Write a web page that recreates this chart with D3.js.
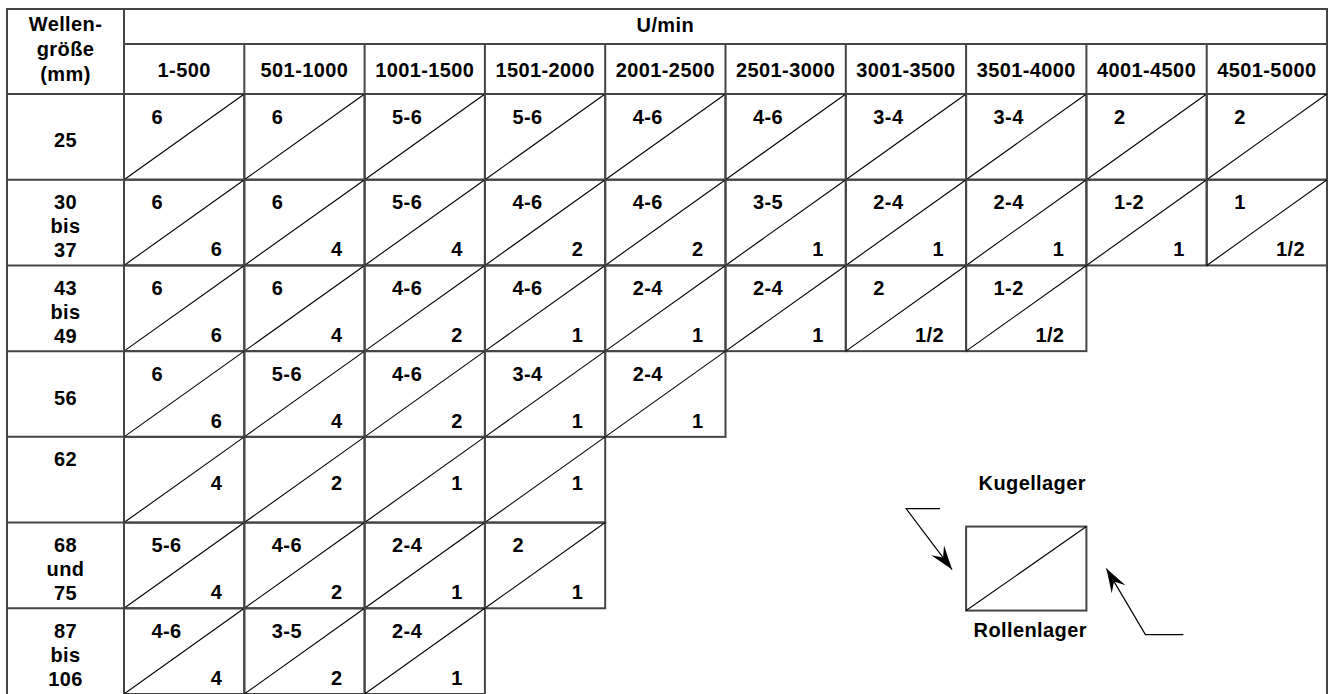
<!DOCTYPE html>
<html>
<head>
<meta charset="utf-8">
<script src="https://cdn.jsdelivr.net/npm/d3@7"></script>
<style>
  html, body { margin: 0; padding: 0; background: #fff; }
  svg text { font-family: "Liberation Sans", Arial, sans-serif; font-weight: bold; font-size: 20px; fill: #000; letter-spacing: 0.4px; }
</style>
</head>
<body>
<svg id="chart" width="1328" height="694"></svg>
<script>
// speed ranges (U/min)
const columns = ["1-500", "501-1000", "1001-1500", "1501-2000", "2001-2500",
  "2501-3000", "3001-3500", "3501-4000", "4001-4500", "4501-5000"];

// shaft size (mm), lines split by "|"
const rowLabels = ["25", "30|bis|37", "43|bis|49", "56", "62", "68|und|75", "87|bis|106"];

// upper-left triangle: Kugellager
const kugellager = [
  ["6", "6", "5-6", "5-6", "4-6", "4-6", "3-4", "3-4", "2", "2"],
  ["6", "6", "5-6", "4-6", "4-6", "3-5", "2-4", "2-4", "1-2", "1"],
  ["6", "6", "4-6", "4-6", "2-4", "2-4", "2", "1-2"],
  ["6", "5-6", "4-6", "3-4", "2-4"],
  [null, null, null, null],
  ["5-6", "4-6", "2-4", "2"],
  ["4-6", "3-5", "2-4"]
];

// lower-right triangle: Rollenlager
const rollenlager = [
  [null, null, null, null, null, null, null, null, null, null],
  ["6", "4", "4", "2", "2", "1", "1", "1", "1", "1/2"],
  ["6", "4", "2", "1", "1", "1", "1/2", "1/2"],
  ["6", "4", "2", "1", "1"],
  ["4", "2", "1", "1"],
  ["4", "2", "1", "1"],
  ["4", "2", "1"]
];

const headerTitle = "Wellen-|größe|(mm)";
const unitTitle = "U/min";
const legendTop = "Kugellager";
const legendBottom = "Rollenlager";

// layout
const tLeft = 7, labelRight = 124, tRight = 1327;
const tTop = 9, headMid = 44, headBottom = 94, tBottom = 694;
const gridColor = "#454545";

const svg = d3.select("#chart");

const x = d3.scaleBand().domain(d3.range(columns.length)).range([labelRight, tRight]);
const y = d3.scaleBand().domain(d3.range(rowLabels.length)).range([headBottom, tBottom]);

// build cells
const cells = [];
rowLabels.forEach((r, i) => {
  const n = Math.max(kugellager[i].length, rollenlager[i].length);
  const noTop = kugellager[i].every(v => v === null);
  for (let j = 0; j < n; j++) {
    cells.push({ row: i, col: j, up: kugellager[i][j], low: rollenlager[i][j], noTop: noTop });
  }
});

const grid = svg.append("g");

// outer frame and header frames
grid.append("rect")
  .attr("x", tLeft).attr("y", tTop)
  .attr("width", tRight - tLeft).attr("height", tBottom + 2 - tTop)
  .attr("fill", "none").attr("stroke", gridColor).attr("stroke-width", 2);

grid.append("line")
  .attr("x1", labelRight).attr("x2", labelRight).attr("y1", tTop).attr("y2", tBottom + 2)
  .attr("stroke", gridColor).attr("stroke-width", 2);
grid.append("line")
  .attr("x1", labelRight).attr("x2", tRight).attr("y1", headMid).attr("y2", headMid)
  .attr("stroke", gridColor).attr("stroke-width", 2);
grid.append("line")
  .attr("x1", tLeft).attr("x2", tRight).attr("y1", headBottom).attr("y2", headBottom)
  .attr("stroke", gridColor).attr("stroke-width", 2);

// column header separators
grid.selectAll(".colsep")
  .data(columns.slice(1))
  .enter()
  .append("line")
  .attr("x1", (d, i) => x(i + 1)).attr("x2", (d, i) => x(i + 1))
  .attr("y1", headMid).attr("y2", headBottom)
  .attr("stroke", gridColor).attr("stroke-width", 2);

// row separators in label column
grid.selectAll(".rowsep")
  .data(rowLabels.slice(1))
  .enter()
  .append("line")
  .attr("x1", tLeft).attr("x2", labelRight)
  .attr("y1", (d, i) => y(i + 1)).attr("y2", (d, i) => y(i + 1))
  .attr("stroke", gridColor).attr("stroke-width", 2);

// value cells
const cellG = svg.append("g")
  .selectAll("g")
  .data(cells)
  .enter()
  .append("g");

cellG.append("rect")
  .attr("x", d => x(d.col)).attr("y", d => y(d.row))
  .attr("width", x.bandwidth()).attr("height", y.bandwidth())
  .attr("fill", "none").attr("stroke", gridColor).attr("stroke-width", 2);

cellG.append("line")
  .attr("x1", d => x(d.col)).attr("y1", d => y(d.row) + y.bandwidth())
  .attr("x2", d => x(d.col) + x.bandwidth()).attr("y2", d => y(d.row))
  .attr("stroke", "#000").attr("stroke-width", 1.1);

cellG.filter(d => d.up !== null)
  .append("text")
  .attr("x", d => x(d.col) + 27.5)
  .attr("y", d => y(d.row) + 29.5)
  .text(d => d.up);

cellG.filter(d => d.low !== null)
  .append("text")
  .attr("text-anchor", "end")
  .attr("x", d => x(d.col) + x.bandwidth() - 22)
  .attr("y", d => d.noTop ? y(d.row) + y.bandwidth() / 2 + 10.5 : y(d.row) + y.bandwidth() - 9)
  .text(d => d.low);

// header texts
svg.append("text")
  .attr("text-anchor", "middle")
  .attr("x", x(4) + x.bandwidth() / 2).attr("y", 31.5)
  .text(unitTitle);

svg.selectAll(".colhead")
  .data(columns)
  .enter()
  .append("text")
  .attr("text-anchor", "middle")
  .attr("x", (d, i) => x(i) + x.bandwidth() / 2)
  .attr("y", 77)
  .text(d => d);

const headLines = headerTitle.split("|");
svg.append("text")
  .attr("text-anchor", "middle")
  .selectAll("tspan")
  .data(headLines)
  .enter()
  .append("tspan")
  .attr("x", (tLeft + labelRight) / 2)
  .attr("y", (d, i) => 30.5 + i * 25)
  .text(d => d);

// row labels
rowLabels.forEach((r, i) => {
  const lines = r.split("|");
  const noTop = kugellager[i].every(v => v === null);
  const mid = y(i) + y.bandwidth() / 2 + 10.5;
  svg.append("text")
    .attr("text-anchor", "middle")
    .selectAll("tspan")
    .data(lines)
    .enter()
    .append("tspan")
    .attr("x", (tLeft + labelRight) / 2)
    .attr("y", (d, k) => noTop ? y(i) + 29.5 + k * 24 : mid + (k - (lines.length - 1) / 2) * 24)
    .text(d => d);
});

// legend: a sample cell placed in the empty area
const lx = x(7), ly = y(5) + 4, lw = x.bandwidth(), lh = 84;
const legend = svg.append("g");

legend.append("rect")
  .attr("x", lx).attr("y", ly).attr("width", lw).attr("height", lh)
  .attr("fill", "none").attr("stroke", gridColor).attr("stroke-width", 2);
legend.append("line")
  .attr("x1", lx).attr("y1", ly + lh).attr("x2", lx + lw).attr("y2", ly)
  .attr("stroke", "#000").attr("stroke-width", 1.1);

legend.append("text")
  .attr("text-anchor", "middle")
  .attr("x", lx + lw / 2 + 6).attr("y", ly - 37)
  .text(legendTop);
legend.append("text")
  .attr("text-anchor", "middle")
  .attr("x", lx + lw / 2 + 4).attr("y", ly + lh + 26)
  .text(legendBottom);

const arrows = [
  [[lx - 26, ly - 18], [lx - 60, ly - 18], [lx - 14, ly + 43]],
  [[lx + lw + 97, ly + lh + 24], [lx + lw + 59, ly + lh + 24], [lx + lw + 20, ly + 42]]
];

legend.selectAll(".arrow")
  .data(arrows)
  .enter()
  .append("polyline")
  .attr("points", d => d.map(p => p.join(",")).join(" "))
  .attr("fill", "none")
  .attr("stroke", "#000")
  .attr("stroke-width", 1.2);

// arrow heads, rotated along the last segment
legend.selectAll(".head")
  .data(arrows)
  .enter()
  .append("path")
  .attr("d", "M0,0 L-24,-8 L-15,0 L-24,8 Z")
  .attr("fill", "#000")
  .attr("transform", d => {
    const a = d[d.length - 2], b = d[d.length - 1];
    const ang = Math.atan2(b[1] - a[1], b[0] - a[0]) * 180 / Math.PI;
    return "translate(" + b[0] + "," + b[1] + ") rotate(" + ang + ")";
  });
</script>
</body>
</html>
